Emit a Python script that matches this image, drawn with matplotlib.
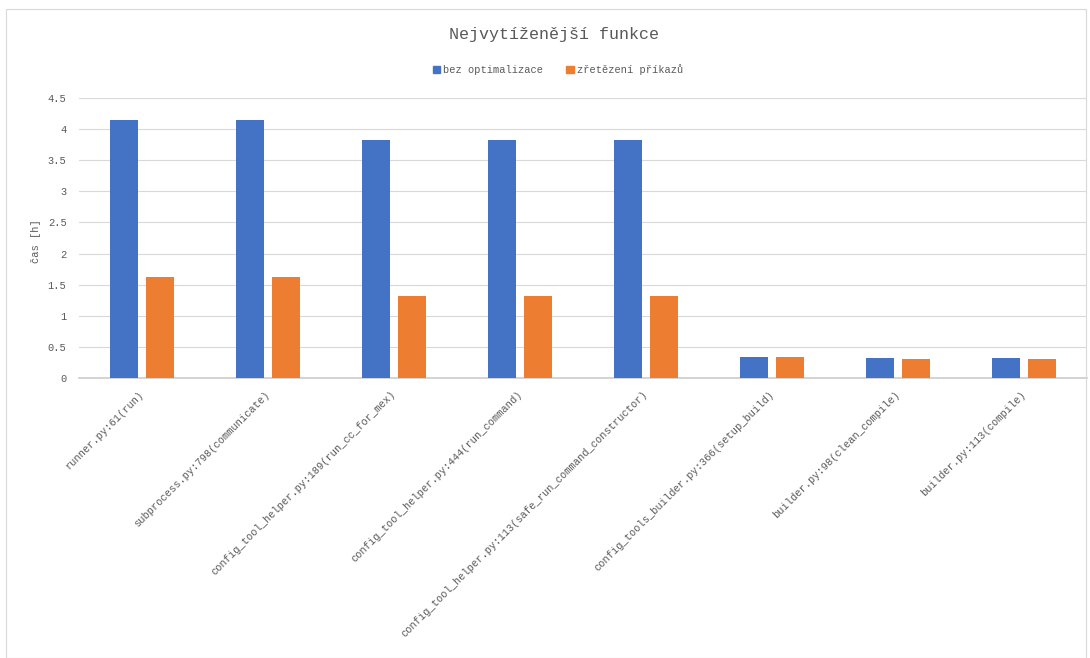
import matplotlib.pyplot as plt
from matplotlib.patches import Rectangle, Patch
import numpy as np

# Data
functions = [
    'runner.py:61(run)',
    'subprocess.py:798(communicate)',
    'config_tool_helper.py:189(run_cc_for_mex)',
    'config_tool_helper.py:444(run_command)',
    'config_tool_helper.py:113(safe_run_command_constructor)',
    'config_tools_builder.py:366(setup_build)',
    'builder.py:98(clean_compile)',
    'builder.py:113(compile)',
]
bez_optimalizace = [4.15, 4.15, 3.82, 3.82, 3.82, 0.34, 0.32, 0.32]
zretezeni = [1.63, 1.63, 1.31, 1.31, 1.31, 0.33, 0.31, 0.31]
series_labels = ['bez optimalizace', 'zřetězení příkazů']
colors = ['#4472c4', '#ed7d31']
yticks = [0, 0.5, 1, 1.5, 2, 2.5, 3, 3.5, 4, 4.5]

txt = '#595959'
plt.rcParams['font.family'] = ['Liberation Mono', 'DejaVu Sans Mono']

W, H = 1090, 658
fig = plt.figure(figsize=(W / 100, H / 100), dpi=100)
fig.patches.append(Rectangle((6 / W, 0), 1080 / W, 1 - 9 / H, transform=fig.transFigure,
                             fill=False, edgecolor='#d9d9d9', linewidth=0.8))

ax = fig.add_axes([79 / W, 1 - 378 / H, 1008 / W, 280 / H])
x = np.arange(len(functions))
bw = 0.222
off = 0.143
ax.bar(x - off, bez_optimalizace, width=bw, color=colors[0], zorder=3)
ax.bar(x + off, zretezeni, width=bw, color=colors[1], zorder=3)

ax.set_xlim(-0.5, len(functions) - 0.5)
ax.set_ylim(0, 4.5)
ax.set_yticks(yticks)
ax.set_yticklabels([('%g' % v) for v in yticks], fontsize=7.5, color=txt)
ax.yaxis.grid(True, color='#d9d9d9', linewidth=0.8, zorder=0)
ax.tick_params(axis='both', length=0)
ax.tick_params(axis='y', pad=9)
for s in ['top', 'right', 'left']:
    ax.spines[s].set_visible(False)
ax.spines['bottom'].set_color('#d0d0d0')
ax.spines['bottom'].set_linewidth(1.3)

ax.set_xticks(x - 0.025)
ax.set_xticklabels(functions, rotation=45, ha='right', va='top',
                   rotation_mode='anchor', fontsize=7.5, color=txt)
ax.tick_params(axis='x', pad=8)

ax.set_ylabel('čas [h]', fontsize=7.5, color=txt)
ax.yaxis.set_label_coords(-38 / 1008, 0.49)

fig.text(0.508, 1 - 34 / H, 'Nejvytíženější funkce', ha='center', va='center',
         fontsize=12, color=txt)
handles = [Patch(color=c) for c in colors]
fig.legend(handles, series_labels, loc='center', bbox_to_anchor=(0.512, 1 - 70 / H),
           ncol=2, frameon=False, fontsize=7.5, labelcolor=txt,
           handlelength=0.7, handleheight=0.7, handletextpad=0.3, columnspacing=2.2)

fig.savefig('out.png', dpi=100, facecolor='white')
